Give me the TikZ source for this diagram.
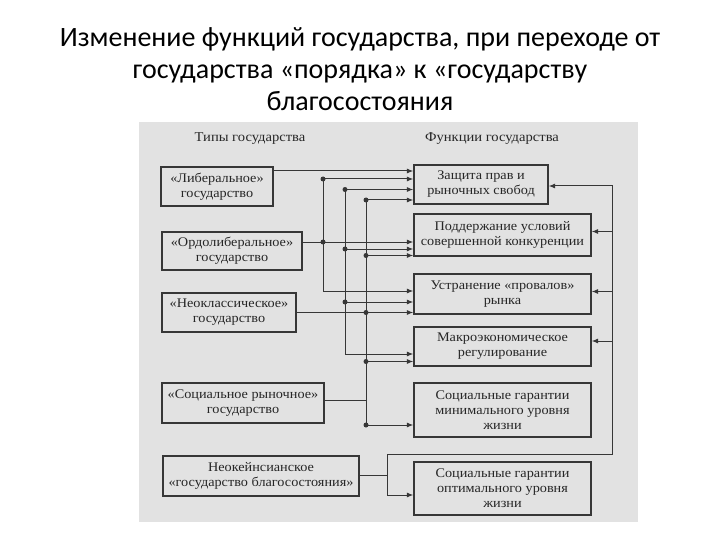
\documentclass[tikz,border=0pt]{standalone}
\usepackage{fontspec}
\setmainfont{Liberation Serif}
\newfontfamily\scanfont[FakeStretch=1.08]{Liberation Serif}
\newfontfamily\titlefont{Carlito}
\usetikzlibrary{arrows.meta}
\definecolor{bgscan}{RGB}{226,226,226}
\definecolor{inkc}{RGB}{55,55,55}
\definecolor{txtc}{RGB}{38,38,38}
\begin{document}
\begin{tikzpicture}[x=1pt,y=-1pt,
  boxs/.style={draw=inkc,line width=1.2pt,fill=bgscan,text=txtc,align=center,inner sep=0pt,
     font=\scanfont\fontsize{13.2}{15}\selectfont},
  hdr/.style={text=txtc,font=\scanfont\fontsize{13.5}{15}\selectfont},
  wire/.style={draw=inkc,line width=1pt},
  arr/.style={wire,-{Latex[length=6.5pt,width=5pt]}},
  jdot/.style={circle,fill=inkc,inner sep=0pt,minimum size=5pt}]
\useasboundingbox (0,0) rectangle (720,540);
\fill[white] (0,0) rectangle (720,540);
% title
\node[align=center,font=\titlefont\fontsize{28}{32}\selectfont,text=black] (title) at (360,69)
  {Изменение функций государства, при переходе от\\государства «порядка» к «государству\\благосостояния};
% scanned area
\fill[bgscan] (139,122) rectangle (638,522);
\node[hdr] (h1) at (250,139) {Типы государства};
\node[hdr] (h2) at (492,139) {Функции государства};
% left boxes
\node[boxs,minimum width=112,minimum height=39] (L1) at (217,186.5) {«Либеральное»\\государство};
\node[boxs,minimum width=140,minimum height=38] (L2) at (232,251) {«Ордолиберальное»\\государство};
\node[boxs,minimum width=134,minimum height=39] (L3) at (229,312.5) {«Неоклассическое»\\государство};
\node[boxs,minimum width=162,minimum height=40] (L4) at (243,403) {«Социальное рыночное»\\государство};
\node[boxs,minimum width=196,minimum height=40] (L5) at (261,476) {Неокейнсианское\\«государство благосостояния»};
% right boxes
\node[boxs,minimum width=134,minimum height=39] (A) at (481,184.5) {Защита прав и\\рыночных свобод};
\node[boxs,minimum width=177,minimum height=42] (B) at (502.5,235) {Поддержание условий\\совершенной конкуренции};
\node[boxs,minimum width=177,minimum height=40] (C) at (502.5,294) {Устранение «провалов»\\рынка};
\node[boxs,minimum width=177,minimum height=39] (D) at (502.5,346.5) {Макроэкономическое\\регулирование};
\node[boxs,minimum width=177,minimum height=54] (E) at (502.5,410) {Социальные гарантии\\минимального уровня\\жизни};
\node[boxs,minimum width=177,minimum height=53] (F) at (502.5,488.5) {Социальные гарантии\\оптимального уровня\\жизни};
% junction coordinates
\coordinate (l1o) at (273,171);
\coordinate (b1a) at (323,179);
\coordinate (b1b) at (323,242);
\coordinate (b1c) at (323,291);
\coordinate (b2a) at (345,189.5);
\coordinate (b2b) at (345,249);
\coordinate (b2c) at (345,302);
\coordinate (b2d) at (345,354);
\coordinate (b3a) at (366,200);
\coordinate (b3b) at (366,255.5);
\coordinate (b3c) at (366,312.5);
\coordinate (b3d) at (366,361.5);
\coordinate (b3e) at (366,425);
\coordinate (b3s) at (366,400);
\coordinate (k1) at (387,475);
\coordinate (k2) at (387,454);
\coordinate (k3) at (387,495);
\coordinate (r0) at (612.5,454);
\coordinate (ra) at (612.5,186);
\coordinate (rb) at (612.5,231.5);
\coordinate (rc) at (612.5,291.5);
\coordinate (rd) at (612.5,341);
% liberal
\draw[arr] (L1.east |- l1o) -- (A.west |- l1o);
% ordoliberal bus
\draw[wire] (L2.east |- b1b) -- (b1b);
\draw[wire] (b1a) -- (b1c);
\draw[arr] (b1a) -- (A.west |- b1a);
\draw[arr] (b1b) -- (B.west |- b1b);
\draw[arr] (b1c) -- (C.west |- b1c);
% neoclassical bus
\draw[wire] (L3.east) -- (b3c);
\draw[wire] (b2a) -- (b2d);
\draw[arr] (b2a) -- (A.west |- b2a);
\draw[arr] (b2b) -- (B.west |- b2b);
\draw[arr] (b2c) -- (C.west |- b2c);
\draw[arr] (b2d) -- (D.west |- b2d);
% social market bus
\draw[wire] (L4.east |- b3s) -- (b3s);
\draw[wire] (b3a) -- (b3e);
\draw[arr] (b3a) -- (A.west |- b3a);
\draw[arr] (b3b) -- (B.west |- b3b);
\draw[arr] (b3c) -- (C.west |- b3c);
\draw[arr] (b3d) -- (D.west |- b3d);
\draw[arr] (b3e) -- (E.west |- b3e);
% welfare state
\draw[wire] (L5.east |- k1) -- (k1);
\draw[arr] (k2) -- (k3) -- (F.west |- k3);
\draw[arr] (k2) -- (r0) -- (ra) -- (A.east |- ra);
\draw[arr] (rb) -- (B.east |- rb);
\draw[arr] (rc) -- (C.east |- rc);
\draw[arr] (rd) -- (D.east |- rd);
% dots
\foreach \p in {b1a,b1b,b2a,b2b,b2c,b3a,b3b,b3c,b3d,b3e}
  \node[jdot] at (\p) {};
\end{tikzpicture}
\end{document}
